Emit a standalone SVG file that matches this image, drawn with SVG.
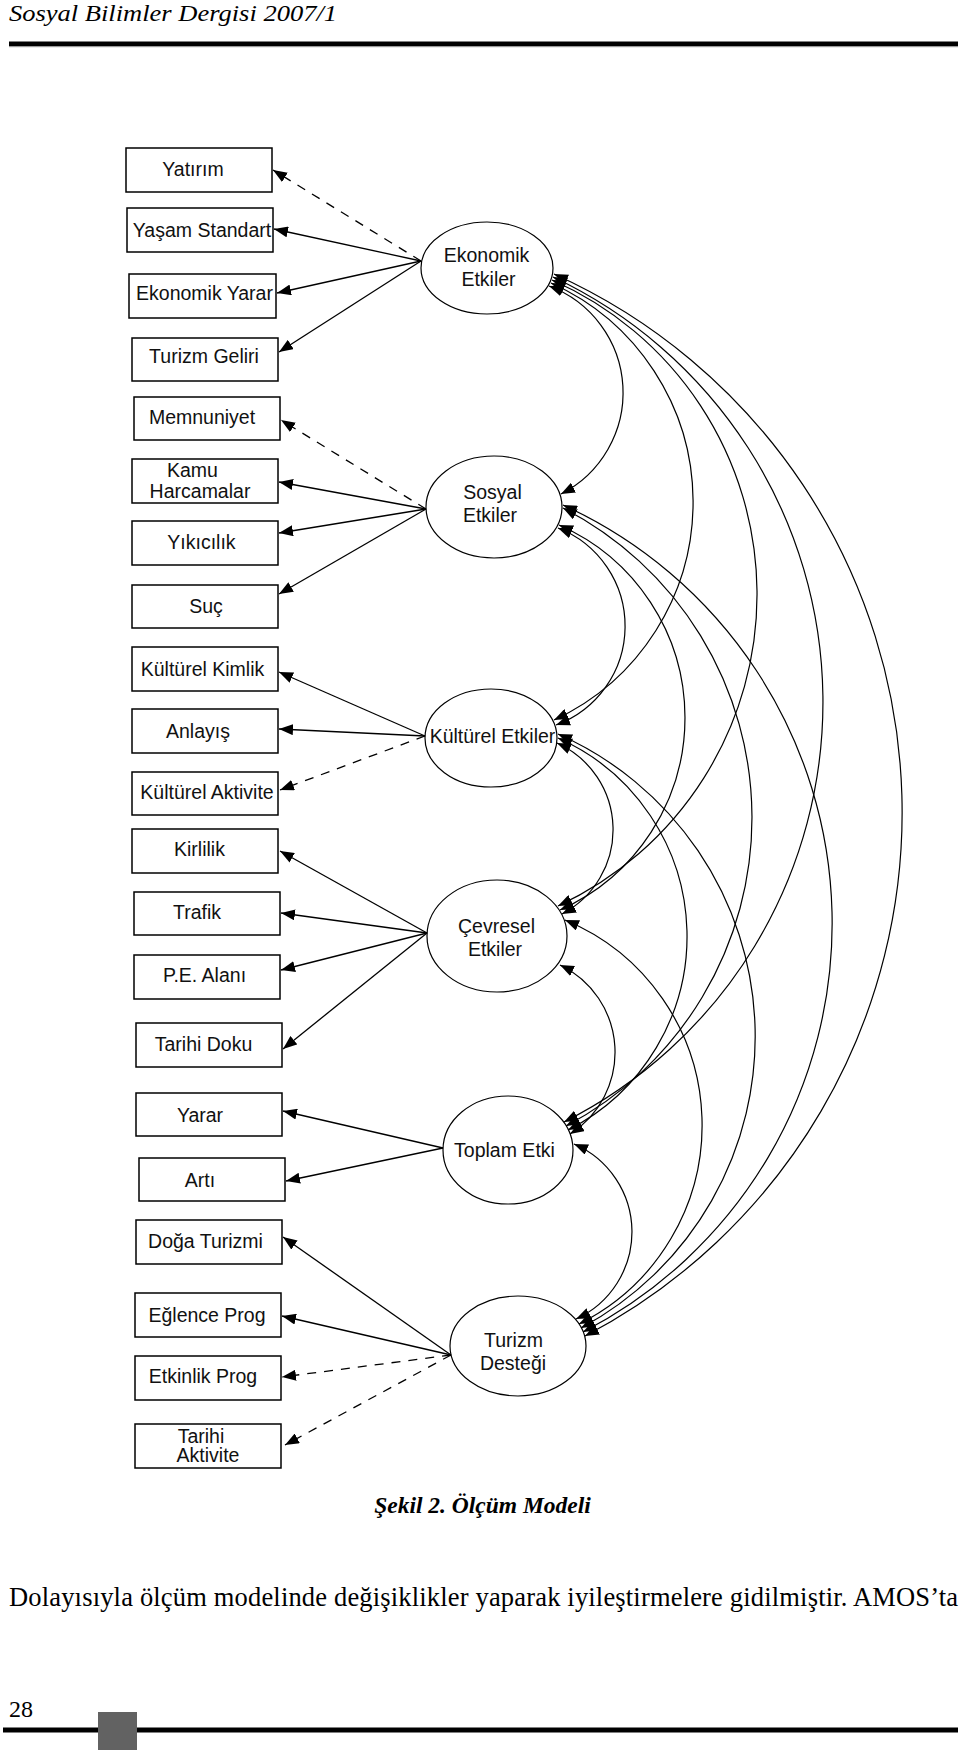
<svg xmlns="http://www.w3.org/2000/svg" width="960" height="1752" viewBox="0 0 960 1752">
<style>
.bg{fill:#fff}
.box{fill:#fff;stroke:#000;stroke-width:1.5}
.lat{fill:#fff;stroke:#000;stroke-width:1.2}
.lbl{font-family:"Liberation Sans",Arial,sans-serif;font-size:19.5px;text-anchor:middle;fill:#111}
.ld{stroke:#000;stroke-width:1.3;fill:none;marker-end:url(#ah)}
.dash{stroke-dasharray:9 8}
.cov{stroke:#000;stroke-width:1.2;fill:none;marker-start:url(#ah);marker-end:url(#ah)}
.serif{font-family:"Liberation Serif","Times New Roman",serif;fill:#000}
</style>
<defs>
<marker id="ah" viewBox="0 0 14 11" refX="14" refY="5.5" markerWidth="14" markerHeight="11" markerUnits="userSpaceOnUse" orient="auto-start-reverse">
<path d="M0,0 L14,5.5 L0,11 z" fill="#000"/>
</marker>
</defs>
<rect class="bg" x="0" y="0" width="960" height="1752"/>

<g id="header">
<text class="serif" x="9" y="21" font-size="24" font-style="italic" textLength="328" lengthAdjust="spacingAndGlyphs">Sosyal Bilimler Dergisi 2007/1</text>
<rect x="9" y="41.5" width="949" height="4.5" fill="#000"/>
<rect x="9" y="46" width="949" height="1.2" fill="#999"/>
</g>

<g id="n-yatirim"><rect class="box" x="126" y="148" width="146" height="44"/><text class="lbl" x="193" y="176">Yatırım</text></g>
<g id="n-yasam"><rect class="box" x="127" y="208" width="146" height="44"/><text class="lbl" x="202" y="237">Yaşam Standart</text></g>
<g id="n-ekyarar"><rect class="box" x="129" y="274" width="147" height="44"/><text class="lbl" x="204.5" y="300">Ekonomik Yarar</text></g>
<g id="n-turgelir"><rect class="box" x="132" y="338" width="146" height="43"/><text class="lbl" x="204" y="363">Turizm Geliri</text></g>
<g id="n-memnun"><rect class="box" x="134" y="397" width="146" height="43"/><text class="lbl" x="202" y="424">Memnuniyet</text></g>
<g id="n-kamu"><rect class="box" x="132" y="459" width="146" height="44"/><text class="lbl" x="192.5" y="477">Kamu</text><text class="lbl" x="200" y="498">Harcamalar</text></g>
<g id="n-yikici"><rect class="box" x="132" y="521" width="146" height="44"/><text class="lbl" x="201.5" y="549">Yıkıcılık</text></g>
<g id="n-suc"><rect class="box" x="132" y="585" width="146" height="43"/><text class="lbl" x="206" y="613">Suç</text></g>
<g id="n-kkimlik"><rect class="box" x="132" y="647" width="146" height="44"/><text class="lbl" x="202.5" y="676">Kültürel Kimlik</text></g>
<g id="n-anlayis"><rect class="box" x="132" y="709" width="146" height="44"/><text class="lbl" x="198" y="738">Anlayış</text></g>
<g id="n-kaktivite"><rect class="box" x="132" y="772" width="146" height="43"/><text class="lbl" x="207" y="799">Kültürel Aktivite</text></g>
<g id="n-kirlilik"><rect class="box" x="132" y="829" width="146" height="44"/><text class="lbl" x="199.5" y="856">Kirlilik</text></g>
<g id="n-trafik"><rect class="box" x="134" y="892" width="146" height="43"/><text class="lbl" x="197" y="919">Trafik</text></g>
<g id="n-pe"><rect class="box" x="134" y="955" width="146" height="44"/><text class="lbl" x="204.5" y="982">P.E. Alanı</text></g>
<g id="n-tdoku"><rect class="box" x="136" y="1023" width="146" height="44"/><text class="lbl" x="203.5" y="1051">Tarihi Doku</text></g>
<g id="n-yarar"><rect class="box" x="136" y="1093" width="146" height="43"/><text class="lbl" x="200" y="1122">Yarar</text></g>
<g id="n-arti"><rect class="box" x="139" y="1158" width="146" height="43"/><text class="lbl" x="200" y="1187">Artı</text></g>
<g id="n-doga"><rect class="box" x="136" y="1220" width="146" height="44"/><text class="lbl" x="205.5" y="1248">Doğa Turizmi</text></g>
<g id="n-eglence"><rect class="box" x="135" y="1293" width="146" height="44"/><text class="lbl" x="207" y="1322">Eğlence Prog</text></g>
<g id="n-etkinlik"><rect class="box" x="135" y="1356" width="146" height="44"/><text class="lbl" x="203" y="1383">Etkinlik Prog</text></g>
<g id="n-taktivite"><rect class="box" x="135" y="1424" width="146" height="44"/><text class="lbl" x="201" y="1443">Tarihi</text><text class="lbl" x="208" y="1462">Aktivite</text></g>

<g id="n-ekonomik"><ellipse class="lat" cx="487" cy="268" rx="66" ry="46"/><text class="lbl" x="486.5" y="262">Ekonomik</text><text class="lbl" x="488.5" y="286">Etkiler</text></g>
<g id="n-sosyal"><ellipse class="lat" cx="494" cy="507" rx="68" ry="51"/><text class="lbl" x="492.5" y="499">Sosyal</text><text class="lbl" x="490" y="522">Etkiler</text></g>
<g id="n-kulturel"><ellipse class="lat" cx="491" cy="738" rx="66" ry="49"/><text class="lbl" x="492.5" y="743">Kültürel Etkiler</text></g>
<g id="n-cevresel"><ellipse class="lat" cx="497" cy="936" rx="70" ry="56"/><text class="lbl" x="496.5" y="933">Çevresel</text><text class="lbl" x="495" y="956">Etkiler</text></g>
<g id="n-toplam"><ellipse class="lat" cx="508" cy="1150" rx="65" ry="54"/><text class="lbl" x="504.5" y="1157">Toplam Etki</text></g>
<g id="n-turizm"><ellipse class="lat" cx="518" cy="1346" rx="68" ry="50"/><text class="lbl" x="513.5" y="1347">Turizm</text><text class="lbl" x="513" y="1370">Desteği</text></g>

<g id="connectors">
<path class="ld dash" d="M421,261 L273,170"/>
<path class="ld" d="M421,261 L274,229"/>
<path class="ld" d="M421,261 L277,293"/>
<path class="ld" d="M421,261 L279,352"/>

<path class="ld dash" d="M426,509 L281,420"/>
<path class="ld" d="M426,509 L279,482"/>
<path class="ld" d="M426,509 L279,533"/>
<path class="ld" d="M426,509 L279,594"/>

<path class="ld" d="M425,736 L279,672"/>
<path class="ld" d="M425,736 L279,729"/>
<path class="ld dash" d="M425,736 L280,790"/>

<path class="ld" d="M427,933 L280,851"/>
<path class="ld" d="M427,933 L281,913"/>
<path class="ld" d="M427,933 L281,970"/>
<path class="ld" d="M427,933 L283,1049"/>

<path class="ld" d="M443,1148 L283,1111"/>
<path class="ld" d="M443,1148 L286,1181"/>

<path class="ld" d="M451,1355 L283,1237"/>
<path class="ld" d="M451,1355 L282,1316"/>
<path class="ld dash" d="M451,1355 L282,1377"/>
<path class="ld dash" d="M451,1355 L285,1445"/>

<path class="cov" d="M549,286 A113.8,113.8 0 0 1 561,494"/>
<path class="cov" d="M551,283 A240.1,240.1 0 0 1 554,720"/>
<path class="cov" d="M552,280 A343.5,343.5 0 0 1 558,906"/>
<path class="cov" d="M553,277 A469.8,469.8 0 0 1 564,1122"/>
<path class="cov" d="M554,274 A590.6,590.6 0 0 1 585,1336"/>

<path class="cov" d="M558,528 A105.3,105.3 0 0 1 556,725"/>
<path class="cov" d="M559,525 A210.4,210.4 0 0 1 560,910"/>
<path class="cov" d="M563,508 A348.4,348.4 0 0 1 566,1126"/>
<path class="cov" d="M563,505 A459.7,459.7 0 0 1 583,1332"/>

<path class="cov" d="M557,743 A95.1,95.1 0 0 1 562,914"/>
<path class="cov" d="M558,738 A217,217 0 0 1 568,1130"/>
<path class="cov" d="M558,734 A330.8,330.8 0 0 1 581,1328"/>

<path class="cov" d="M560,965 A96.7,96.7 0 0 1 570,1134"/>
<path class="cov" d="M565,920 A222.1,222.1 0 0 1 579,1324"/>

<path class="cov" d="M574,1144 A95.7,95.7 0 0 1 576,1319"/>
</g>

<g id="caption">
<text class="serif" x="482.5" y="1513" font-size="23.5" font-style="italic" font-weight="bold" text-anchor="middle">Şekil 2. Ölçüm Modeli</text>
<text class="serif" x="9" y="1606" font-size="26.5" textLength="949" lengthAdjust="spacing">Dolayısıyla ölçüm modelinde değişiklikler yaparak iyileştirmelere gidilmiştir. AMOS’ta</text>
</g>

<g id="footer">
<text class="serif" x="9" y="1717" font-size="24">28</text>
<rect x="3" y="1727.5" width="955" height="5" fill="#000"/>
<rect x="98" y="1712" width="39" height="38" fill="#626262"/>
</g>
</svg>
